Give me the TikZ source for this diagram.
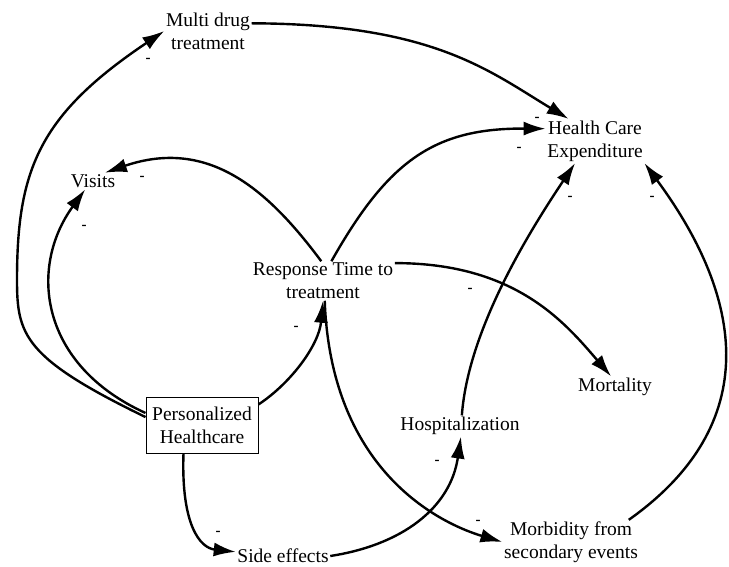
\documentclass[tikz,border=0pt]{standalone}
\usepackage{fontspec}
\setmainfont{Liberation Serif}
\newfontfamily\labelfont{Liberation Serif}
\usetikzlibrary{arrows.meta}
\begin{document}
\begin{tikzpicture}[x=1pt,y=1pt,
  var/.style={font=\labelfont\fontsize{19.5}{23}\selectfont, align=center, inner sep=1.5pt},
  stock/.style={var, draw, line width=1pt, minimum width=112pt, minimum height=56pt, inner sep=0pt},
  link/.style={line width=2.4pt, -{Latex[length=22pt,width=14pt]}},
  sign/.style={font=\labelfont\bfseries\fontsize{15}{15}\selectfont, inner sep=0pt}]
\useasboundingbox (0,0) rectangle (729,-567);
\fill[white] (0,0) rectangle (729,-567);

% variables
\node[var]   (md)   at (208,-31)  {Multi drug\\treatment};
\node[var]   (hce)  at (595,-141) {Health Care\\Expenditure};
\node[var]   (vis)  at (93,-181)  {Visits};
\node[var]   (rt)   at (323,-281) {Response Time to\\treatment};
\node[var]   (mort) at (615,-387) {Mortality};
\node[var]   (hosp) at (460,-426) {Hospitalization};
\node[stock] (ph)   at (202,-425) {Personalized\\Healthcare};
\node[var]   (se)   at (283,-556) {Side effects};
\node[var]   (morb) at (571,-542) {Morbidity from\\secondary events};

% causal links
\draw[link] (ph.172) .. controls (24,-358) and (17,-335) .. (17,-280)
                     .. controls (17,-170) and (39,-115) .. (md.west);
\draw[link] (ph.168) .. controls (40,-365) and (28,-268) .. (vis.227);
\draw[link] (md.10) .. controls (433,-24) and (489,-71) .. (hce.140);
\draw[link] (rt.95) .. controls (268.5,-190.3) and (209,-137) .. (vis.35);
\draw[link] (rt.67) .. controls (388,-161) and (434,-128) .. (hce.166);
\draw[link] (rt.14) .. controls (515,-263) and (564.5,-322) .. (mort.110);
\draw[link] (ph.20) .. controls (291,-383) and (319,-345) .. (rt.south);
\draw[link] (rt.275) .. controls (331,-475) and (445,-525) .. (morb.west);
\draw[link] (se.east) .. controls (402,-545) and (450.5,-508) .. (hosp.275);
\draw[link] (ph.237) .. controls (181,-525) and (200,-548) .. (se.175);
\draw[link] (hosp.80) .. controls (468,-330) and (529,-232) .. (hce.228);
\draw[link] (morb.21) .. controls (764,-424) and (744,-298) .. (hce.south east);

% polarity signs
\node[sign] (s1)  at (148,-60)  {-};
\node[sign] (s2)  at (142,-178) {-};
\node[sign] (s3)  at (84,-227)  {-};
\node[sign] (s4)  at (537,-119) {-};
\node[sign] (s5)  at (519,-149) {-};
\node[sign] (s6)  at (570,-198) {-};
\node[sign] (s7)  at (652,-198) {-};
\node[sign] (s8)  at (470,-290) {-};
\node[sign] (s9)  at (296,-328) {-};
\node[sign] (s10) at (437,-462) {-};
\node[sign] (s11) at (478,-522) {-};
\node[sign] (s12) at (218,-533) {-};
\end{tikzpicture}
\end{document}
